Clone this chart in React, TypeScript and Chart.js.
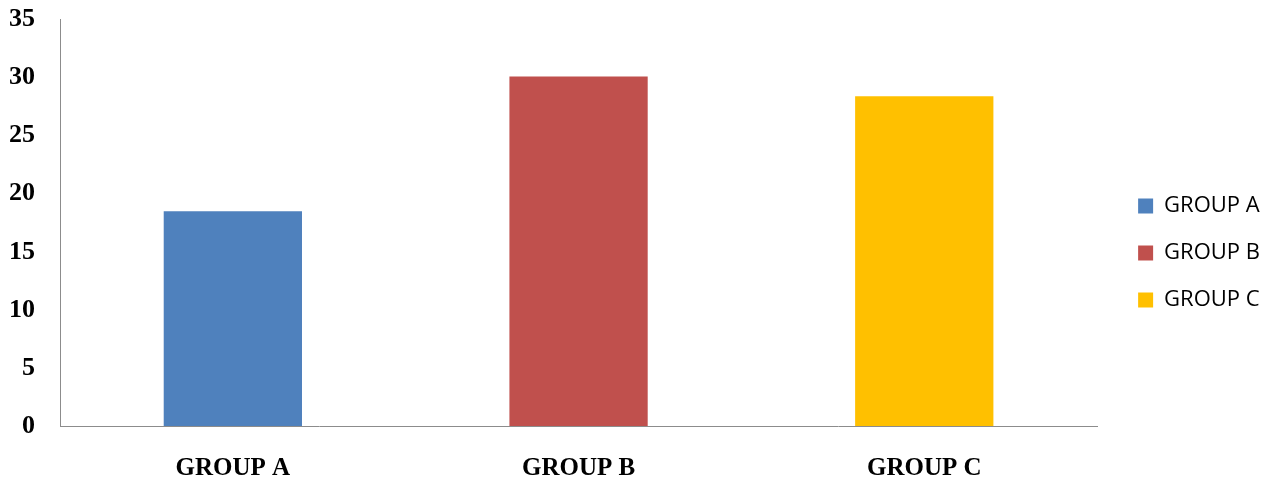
import React, { useEffect, useRef } from "react";
import { Chart, registerables } from "chart.js";

Chart.register(...registerables);

const categories = ["GROUP A", "GROUP B", "GROUP C"];
const values = [18.5, 30.1, 28.4];
const colors = ["#4F81BD", "#C0504D", "#FFC000"];
const yTicks = [0, 5, 10, 15, 20, 25, 30, 35];

const legendShift = {
  id: "legendShift",
  afterLayout(chart: any) {
    const l = chart.legend;
    if (l) {
      l.left += 16;
      l.right += 16;
    }
  },
};

export default function App() {
  const ref = useRef<HTMLCanvasElement | null>(null);
  useEffect(() => {
    document.body.style.margin = "0";
    const chart = new Chart(ref.current!, {
      type: "bar",
      data: {
        labels: categories,
        datasets: [
          {
            data: values,
            backgroundColor: colors,
            borderWidth: 0,
            categoryPercentage: 1,
            barPercentage: 0.4,
          },
        ],
      },
      plugins: [legendShift],
      options: {
        animation: false,
        responsive: false,
        maintainAspectRatio: false,
        layout: { padding: { left: 5, top: -3, right: 21, bottom: -28 } },
        plugins: {
          tooltip: { enabled: false },
          legend: {
            position: "right",
            labels: {
              boxWidth: 15,
              boxHeight: 15,
              padding: 25,
              color: "#000",
              font: { family: "'Open Sans', sans-serif", size: 22 },
              generateLabels: () =>
                categories.map((c, i) => ({
                  text: c,
                  fillStyle: colors[i],
                  strokeStyle: colors[i],
                  lineWidth: 0,
                  hidden: false,
                  index: i,
                  datasetIndex: 0,
                })),
            },
          },
        },
        scales: {
          x: {
            grid: { display: false, drawTicks: true, tickLength: 3 },
            border: { display: true, color: "#8c8c8c", width: 1 },
            ticks: {
              padding: 25,
              color: "#000",
              font: { family: "'Liberation Serif', serif", size: 25, weight: "bold" },
            },
          },
          y: {
            min: 0,
            max: 35,
            afterBuildTicks: (axis: any) => {
              axis.ticks = yTicks.map((v) => ({ value: v }));
            },
            grid: { display: false, drawTicks: true, tickLength: 21 },
            border: { display: true, color: "#8c8c8c", width: 1 },
            ticks: {
              padding: 4,
              color: "#000",
              font: { family: "'Liberation Serif', serif", size: 26, weight: "bold" },
            },
          },
        },
      },
    });
    return () => chart.destroy();
  }, []);
  return (
    <div style={{ position: "absolute", left: 0, top: 0, width: 1275, height: 481 }}>
      <canvas ref={ref} width={1275} height={481} />
    </div>
  );
}
